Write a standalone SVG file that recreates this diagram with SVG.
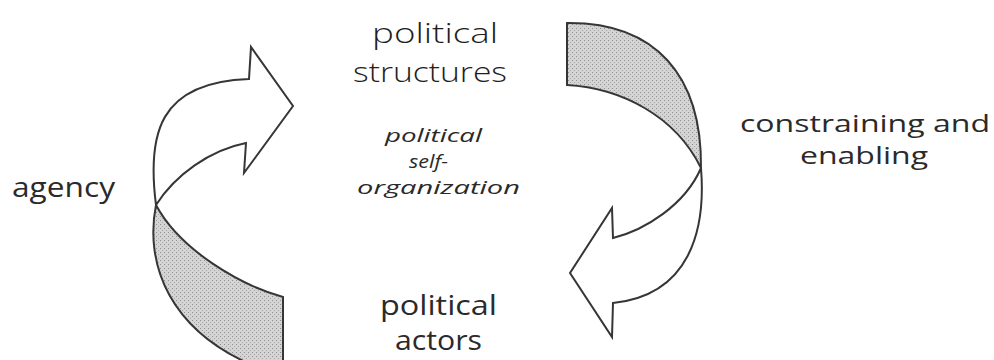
<svg xmlns="http://www.w3.org/2000/svg" width="994" height="360" viewBox="0 0 994 360">
  <defs>
    <pattern id="stipple" width="4" height="4" patternUnits="userSpaceOnUse">
      <rect width="4" height="4" fill="#d4d4d4"/>
      <rect x="0" y="0" width="1" height="1" fill="#8f8f8f"/>
      <rect x="2" y="2" width="1" height="1" fill="#a8a8a8"/>
    </pattern>
    <style>
      .shape { stroke: #363636; stroke-width: 2; stroke-linejoin: miter; }
      .white { fill: #ffffff; }
      .shade { fill: url(#stipple); }
      .lbl { font-family: "Open Sans", "Noto Sans", "DejaVu Sans", sans-serif; fill: #2a2a2a; }
      .geo { font-family: "Open Sans", "Noto Sans", "DejaVu Sans", sans-serif; font-weight: 300; fill: #1e1e1e; }
      .ital { font-family: "Open Sans", "Noto Sans", "DejaVu Sans", sans-serif; font-style: italic; fill: #2a2a2a; }
    </style>
  </defs>
  <rect width="994" height="360" fill="#ffffff"/>

  <g id="connectors">
    <g id="agency-arrow">
      <path class="shape shade" d="M156,205 C145,260 165,335 270,372 L283,376 L283,297 C240,285 180,250 156,205 Z"/>
      <path class="shape white" d="M156,205 C147,135 158,82 249,79 L251,47 L293,106 L244,173 L246,143 C210,150 175,175 156,205 Z"/>
    </g>
    <g id="constraining-arrow">
      <path class="shape shade" d="M567,23 C655,22 702,75 701,168 C675,115 620,88 567,85 Z"/>
      <path class="shape white" d="M701,168 C706,230 690,295 613,303 L612,337 L570,273 L612,208 L613,238 C645,230 685,205 701,168 Z"/>
    </g>
  </g>

  <g id="political-structures">
    <text class="geo" x="372" y="43" font-size="28" textLength="126" lengthAdjust="spacingAndGlyphs">political</text>
    <text class="geo" x="353" y="82" font-size="28" textLength="154" lengthAdjust="spacingAndGlyphs">structures</text>
  </g>
  <g id="self-organization">
    <text class="ital" x="385" y="142" font-size="19" textLength="97" lengthAdjust="spacingAndGlyphs">political</text>
    <text class="ital" x="409" y="168" font-size="19" textLength="39" lengthAdjust="spacingAndGlyphs">self-</text>
    <text class="ital" x="357" y="194" font-size="19" textLength="163" lengthAdjust="spacingAndGlyphs">organization</text>
  </g>
  <g id="political-actors">
    <text class="lbl" x="380" y="315" font-size="27" textLength="117" lengthAdjust="spacingAndGlyphs">political</text>
    <text class="lbl" x="395" y="350" font-size="27" textLength="87" lengthAdjust="spacingAndGlyphs">actors</text>
  </g>
  <g id="constraining-enabling">
    <text class="lbl" x="740" y="132" font-size="24" textLength="250" lengthAdjust="spacingAndGlyphs">constraining and</text>
    <text class="lbl" x="800" y="164" font-size="24" textLength="128" lengthAdjust="spacingAndGlyphs">enabling</text>
  </g>
  <g id="agency">
    <text class="lbl" x="12" y="197" font-size="27" textLength="103" lengthAdjust="spacingAndGlyphs">agency</text>
  </g>
</svg>
